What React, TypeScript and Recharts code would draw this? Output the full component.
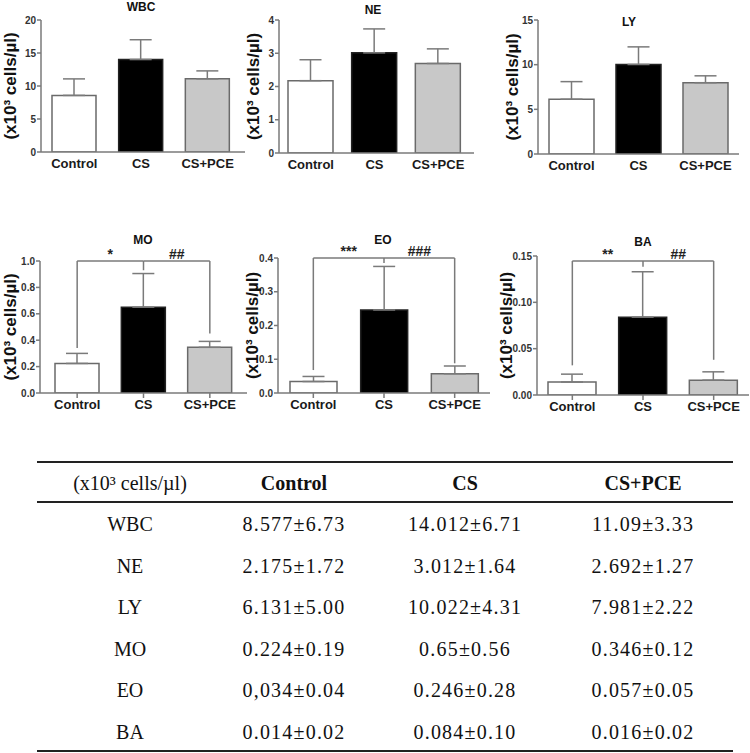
import { Bar, BarChart, Cell, ErrorBar, ReferenceLine, XAxis, YAxis } from "recharts";

const groups = ["Control", "CS", "CS+PCE"];
const barFills = ["#ffffff", "#000000", "#c8c8c8"];

// bar heights (means) and upper error bars
const wbcMean = [8.577, 14.012, 11.09];
const wbcErr = [2.5, 3.0, 1.2];
const neMean = [2.175, 3.012, 2.692];
const neErr = [0.63, 0.72, 0.44];
const lyMean = [6.131, 10.022, 7.981];
const lyErr = [1.97, 1.97, 0.77];
const moMean = [0.224, 0.65, 0.346];
const moErr = [0.076, 0.255, 0.045];
const eoMean = [0.034, 0.246, 0.057];
const eoErr = [0.015, 0.129, 0.023];
const baMean = [0.014, 0.084, 0.016];
const baErr = [0.0085, 0.049, 0.009];

const wbcTicks = [0, 5, 10, 15, 20];
const neTicks = [0, 1, 2, 3, 4];
const lyTicks = [0, 5, 10, 15];
const moTicks = [0, 0.2, 0.4, 0.6, 0.8, 1.0];
const eoTicks = [0, 0.1, 0.2, 0.3, 0.4];
const baTicks = [0, 0.05, 0.1, 0.15];

// significance brackets: [bracket level, left drop, right drop, centre drop]
const moBracket = [1.0, 0.34, 0.45, 0.93];
const eoBracket = [0.4, 0.068, 0.088, 0.385];
const baBracket = [0.1446, 0.032, 0.038, 0.1385];
const moStars = ["*", "##"];
const eoStars = ["***", "###"];
const baStars = ["**", "##"];

// table
const tableHead = ["(x10³ cells/µl)", "Control", "CS", "CS+PCE"];
const cellTypes = ["WBC", "NE", "LY", "MO", "EO", "BA"];
const controlText = ["8.577±6.73", "2.175±1.72", "6.131±5.00", "0.224±0.19", "0,034±0.04", "0.014±0.02"];
const csText = ["14.012±6.71", "3.012±1.64", "10.022±4.31", "0.65±0.56", "0.246±0.28", "0.084±0.10"];
const pceText = ["11.09±3.33", "2.692±1.27", "7.981±2.22", "0.346±0.12", "0.057±0.05", "0.016±0.02"];

const GRAY = "#7a7a7a";
const SANS = "'Liberation Sans', Arial, sans-serif";
const SERIF = "'Liberation Serif', 'Times New Roman', serif";

type Panel = {
  title: string;
  mean: number[];
  err: number[];
  ticks: number[];
  digits: number;
  bracket?: number[];
  stars?: string[];
  left: number;
  top: number;
  width: number;
  height: number;
  margin: { top: number; right: number; bottom: number; left: number };
  yWidth: number;
  labelOffset: number;
  pad: { left: number; right: number };
  barSize: number;
  xTicks: boolean;
  titleX: number;
  titleY: number;
};

const panels: Panel[] = [
  {
    title: "WBC", mean: wbcMean, err: wbcErr, ticks: wbcTicks, digits: 0,
    left: 0, top: 0, width: 246, height: 182, margin: { top: 20, right: 1, bottom: 0, left: 5 },
    yWidth: 36, labelOffset: 5, pad: { left: 0, right: 4 }, barSize: 44, xTicks: false, titleX: 141, titleY: 7,
  },
  {
    title: "NE", mean: neMean, err: neErr, ticks: neTicks, digits: 0,
    left: 240, top: 0, width: 234, height: 183, margin: { top: 20, right: 0, bottom: 0, left: 10 },
    yWidth: 29, labelOffset: 3, pad: { left: 0, right: 4 }, barSize: 45, xTicks: false, titleX: 373, titleY: 10,
  },
  {
    title: "LY", mean: lyMean, err: lyErr, ticks: lyTicks, digits: 0,
    left: 497, top: 0, width: 242, height: 184, margin: { top: 20, right: 0, bottom: 0, left: 10 },
    yWidth: 31, labelOffset: 5, pad: { left: 0, right: 0 }, barSize: 45, xTicks: false, titleX: 629, titleY: 22,
  },
  {
    title: "MO", mean: moMean, err: moErr, ticks: moTicks, digits: 1, bracket: moBracket, stars: moStars,
    left: 0, top: 200, width: 247, height: 223, margin: { top: 61, right: 0, bottom: 0, left: 5 },
    yWidth: 35, labelOffset: 5, pad: { left: 4, right: 4 }, barSize: 44, xTicks: true, titleX: 143, titleY: 240,
  },
  {
    title: "EO", mean: eoMean, err: eoErr, ticks: eoTicks, digits: 1, bracket: eoBracket, stars: eoStars,
    left: 240, top: 200, width: 250, height: 223, margin: { top: 58, right: 0, bottom: 0, left: 10 },
    yWidth: 28, labelOffset: 2, pad: { left: 0, right: 0 }, barSize: 47, xTicks: true, titleX: 383, titleY: 240,
  },
  {
    title: "BA", mean: baMean, err: baErr, ticks: baTicks, digits: 2, bracket: baBracket, stars: baStars,
    left: 491, top: 200, width: 258, height: 225, margin: { top: 56, right: 0, bottom: 0, left: 10 },
    yWidth: 36, labelOffset: 5, pad: { left: 0, right: 0 }, barSize: 48, xTicks: true, titleX: 643, titleY: 242,
  },
];

const starLabel = (value: string) => ({
  value,
  position: "top" as const,
  offset: 2,
  style: { fontSize: 14, fontWeight: "bold", fill: "#222", fontFamily: SANS },
});

const SmallBar = ({ p }: { p: Panel }) => {
  const data = groups.map((g, i) => ({ name: g, value: p.mean[i], err: [0, p.err[i]] }));
  const max = p.ticks[p.ticks.length - 1];
  const b = p.bracket;
  return (
    <div style={{ position: "absolute", left: p.left, top: p.top }}>
      <BarChart width={p.width} height={p.height} data={data} margin={p.margin}>
        <XAxis
          dataKey="name"
          interval={0}
          height={30}
          padding={p.pad}
          axisLine={{ stroke: GRAY, strokeWidth: 1.5 }}
          tickLine={p.xTicks ? { stroke: GRAY, strokeWidth: 1.5 } : false}
          tickSize={5}
          tick={{ fontSize: 13, fontWeight: "bold", fill: "#1a1a1a", fontFamily: SANS }}
        />
        <YAxis
          type="number"
          domain={[0, max]}
          ticks={p.ticks}
          width={p.yWidth}
          interval={0}
          allowDataOverflow
          axisLine={{ stroke: GRAY, strokeWidth: 1.5 }}
          tickLine={{ stroke: GRAY, strokeWidth: 1.5 }}
          tickSize={4}
          tickMargin={1}
          tickFormatter={(v: number) => v.toFixed(p.digits)}
          tick={{ fontSize: 10, fontWeight: "bold", fill: "#333", fontFamily: SANS }}
          label={{
            value: "(x10³ cells/µl)",
            angle: -90,
            position: "insideLeft",
            offset: p.labelOffset,
            style: { textAnchor: "middle", fontSize: 17, fontWeight: "bold", fill: "#111", fontFamily: SANS },
          }}
        />
        <Bar dataKey="value" barSize={p.barSize} stroke="#6a6a6a" strokeWidth={1.5} isAnimationActive={false}>
          {data.map((d, i) => (
            <Cell key={d.name} fill={barFills[i]} stroke={i === 1 ? "#222" : "#6a6a6a"} />
          ))}
          <ErrorBar dataKey="err" width={11} stroke={GRAY} strokeWidth={1.5} direction="y" />
        </Bar>
        {b && p.stars && (
          <ReferenceLine
            segment={[{ x: groups[0], y: b[0] }, { x: groups[1], y: b[0] }]}
            stroke={GRAY}
            strokeWidth={1.5}
            label={starLabel(p.stars[0])}
          />
        )}
        {b && p.stars && (
          <ReferenceLine
            segment={[{ x: groups[1], y: b[0] }, { x: groups[2], y: b[0] }]}
            stroke={GRAY}
            strokeWidth={1.5}
            label={starLabel(p.stars[1])}
          />
        )}
        {b && (
          <ReferenceLine segment={[{ x: groups[0], y: b[0] }, { x: groups[0], y: b[1] }]} stroke={GRAY} strokeWidth={1.5} />
        )}
        {b && (
          <ReferenceLine segment={[{ x: groups[2], y: b[0] }, { x: groups[2], y: b[2] }]} stroke={GRAY} strokeWidth={1.5} />
        )}
        {b && (
          <ReferenceLine segment={[{ x: groups[1], y: b[0] }, { x: groups[1], y: b[3] }]} stroke={GRAY} strokeWidth={1.5} />
        )}
      </BarChart>
      <div
        style={{
          position: "absolute",
          left: p.titleX - p.left - 40,
          top: p.titleY - p.top - 8,
          width: 80,
          textAlign: "center",
          font: `bold 12px ${SANS}`,
          lineHeight: "16px",
          color: "#111",
        }}
      >
        {p.title}
      </div>
    </div>
  );
};

const colX = [130, 294, 465, 643];
const rowY = cellTypes.map((_, i) => 524 + i * 41.6);

const Cellx = ({ x, y, text, bold, num }: { x: number; y: number; text: string; bold?: boolean; num?: boolean }) => (
  <div
    style={{
      position: "absolute",
      left: x - 100,
      top: y - 13,
      width: 200,
      textAlign: "center",
      fontFamily: SERIF,
      fontSize: 20,
      lineHeight: "26px",
      fontWeight: bold ? "bold" : "normal",
      letterSpacing: num ? 1.2 : 0,
      color: "#111",
    }}
  >
    {text}
  </div>
);

const Rule = ({ y }: { y: number }) => (
  <div style={{ position: "absolute", left: 37, top: y, width: 696, height: 2, background: "#222" }} />
);

export default function App() {
  return (
    <div style={{ position: "absolute", left: 0, top: 0, width: 750, height: 753, background: "#fff", overflow: "hidden" }}>
      {panels.map((p) => (
        <SmallBar key={p.title} p={p} />
      ))}
      <Rule y={461} />
      <Rule y={501} />
      <Rule y={750} />
      {tableHead.map((h, i) => (
        <Cellx key={h} x={colX[i]} y={483} text={h} bold={i > 0} />
      ))}
      {cellTypes.map((c, i) => (
        <div key={c}>
          <Cellx x={colX[0]} y={rowY[i]} text={c} />
          <Cellx x={colX[1]} y={rowY[i]} text={controlText[i]} num />
          <Cellx x={colX[2]} y={rowY[i]} text={csText[i]} num />
          <Cellx x={colX[3]} y={rowY[i]} text={pceText[i]} num />
        </div>
      ))}
    </div>
  );
}
